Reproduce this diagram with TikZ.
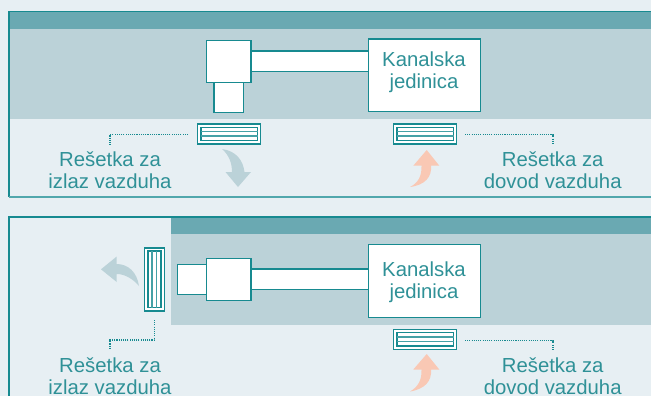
\documentclass[tikz,border=0pt]{standalone}
\usepackage{fontspec}
\setmainfont{Liberation Sans}
\definecolor{bgc}{HTML}{E7EFF3}
\definecolor{bandc}{HTML}{BBD2D8}
\definecolor{headc}{HTML}{6AA9B2}
\definecolor{tealc}{HTML}{178A90}
\definecolor{textc}{HTML}{2F9197}
\definecolor{peachc}{HTML}{F9C8B4}
\tikzset{
  box/.style={draw=tealc,fill=white,line width=1.4pt,inner sep=0pt,outer sep=0pt},
  panelline/.style={draw=tealc,line width=1.2pt},
  leader/.style={draw=tealc,line width=1.2pt,dash pattern=on 1.1pt off 1.1pt},
  lbl/.style={text=textc,font=\fontsize{20.4}{22}\selectfont,align=center,inner sep=0pt},
  slat/.style={draw=tealc,line width=1.3pt},
  slatlight/.style={draw=tealc!80,line width=1.5pt}
}
\newcommand{\grilleH}[3]{% name, x left, y top
  \node[box,minimum width=63pt,minimum height=20pt,anchor=north west,line width=1.5pt] (#1) at (#2,#3) {};
  \draw[slat] (#2+3.5,#3+3.3) rectangle (#2+60,#3+16.5);
  \draw[slatlight] (#2+3.5,#3+7.7) -- (#2+60,#3+7.7) (#2+3.5,#3+12) -- (#2+60,#3+12);
}
\begin{document}
\begin{tikzpicture}[x=1bp,y=-1bp]
\useasboundingbox (0,0) rectangle (651,396);
\fill[bgc] (0,0) rectangle (651,396);
% top panel
\fill[bandc] (9,29) rectangle (651,119);
\fill[headc] (9,12) rectangle (651,29);
\draw[panelline] (651,11.5) -- (9,11.5) -- (9,197);
\draw[draw=tealc!75,line width=1.6pt] (9,197) -- (651,197);
\node[box,minimum width=118pt,minimum height=20.5pt,anchor=north west] (ducta) at (251,51) {};
\node[box,minimum width=29.5pt,minimum height=30pt,anchor=north west] (drop) at (214,82.5) {};
\node[box,minimum width=44.5pt,minimum height=42pt,anchor=north west] (sqa) at (206.5,40.5) {};
\node[box,minimum width=112.5pt,minimum height=73pt,anchor=north west] (unita) at (368.5,39) {};
\node[lbl] (unitat) at (424,71.8) {Kanalska\\jedinica};
\grilleH{ga}{197.5}{124}
\grilleH{gb}{393.5}{124}
\node[lbl] (la) at (110,170.5) {Rešetka za\\izlaz vazduha};
\node[lbl] (lb) at (552.7,170.5) {Rešetka za\\dovod vazduha};
\coordinate (a1) at (188,134.5);
\coordinate (a2) at (110,134.5);
\coordinate (a3) at (110,145);
\draw[leader] (a1) -- (a2) -- (a3);
\coordinate (b1) at (465,134.5);
\coordinate (b2) at (553,134.5);
\coordinate (b3) at (553,145);
\draw[leader] (b1) -- (b2) -- (b3);
\fill[bandc] (222,149) .. controls (236,151) and (243,160) .. (244.5,172) -- (251,172) -- (238,187) -- (225.5,172) -- (232,172) .. controls (232,163) and (229,155) .. (222,149) -- cycle;
\fill[peachc] (410,187) .. controls (425,185) and (432,177) .. (431,165.7) -- (439.3,165.7) -- (426.7,150) -- (413.3,165.7) -- (421.5,165.7) .. controls (422,176) and (418,183) .. (410,187) -- cycle;
% bottom panel
\fill[bandc] (171,234) rectangle (651,325);
\fill[headc] (171,217) rectangle (651,234);
\draw[panelline] (651,217) -- (9,217) -- (9,396);
\draw[draw=tealc,line width=1.5pt] (171,216.5) -- (651,216.5);
\node[box,minimum width=118pt,minimum height=20.5pt,anchor=north west] (ductb) at (251,269) {};
\node[box,minimum width=29.5pt,minimum height=30pt,anchor=north west] (stub) at (177.5,264.5) {};
\node[box,minimum width=44.5pt,minimum height=42pt,anchor=north west] (sqb) at (206.5,258.5) {};
\node[box,minimum width=112.5pt,minimum height=73.5pt,anchor=north west] (unitb) at (368.5,244.5) {};
\node[lbl] (unitbt) at (424,281.8) {Kanalska\\jedinica};
\node[box,minimum width=20pt,minimum height=63pt,anchor=north west,line width=1.5pt] (gc) at (144.5,248) {};
\draw[slat] (148,251) rectangle (161,307.5);
\draw[slatlight] (152.2,251) -- (152.2,307.5) (156.5,251) -- (156.5,307.5);
\grilleH{gd}{393.5}{329.5}
\node[lbl] (lc) at (110,376.3) {Rešetka za\\izlaz vazduha};
\node[lbl] (ld) at (552.7,376.3) {Rešetka za\\dovod vazduha};
\coordinate (c1) at (154.5,320);
\coordinate (c2) at (154.5,340);
\coordinate (c3) at (110,340);
\coordinate (c4) at (110,350);
\draw[leader] (c1) -- (c2) -- (c3) -- (c4);
\coordinate (d1) at (465,340.5);
\coordinate (d2) at (553,340.5);
\coordinate (d3) at (553,350);
\draw[leader] (d1) -- (d2) -- (d3);
\fill[bandc] (139,286) .. controls (137,272) and (128,264) .. (116.7,264) -- (116.7,256.5) -- (101,269.3) -- (116.7,282) -- (116.7,274) .. controls (125,274) and (133,279) .. (139,286) -- cycle;
\fill[peachc] (410,391.5) .. controls (425,389) and (432,381) .. (431,369.5) -- (439.3,369.5) -- (426.7,354) -- (413.3,369.5) -- (421.5,369.5) .. controls (422,380) and (418,387) .. (410,391.5) -- cycle;
\end{tikzpicture}
\end{document}
